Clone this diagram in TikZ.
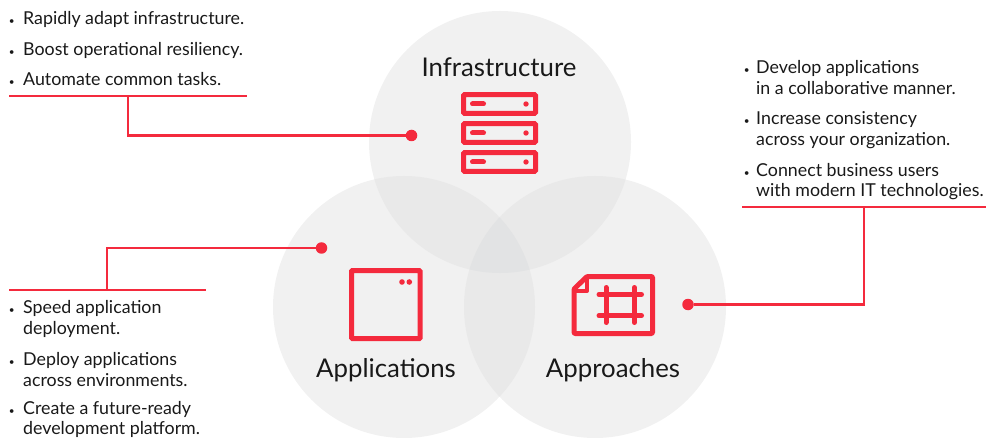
\documentclass[tikz,border=0pt]{standalone}
\usepackage{fontspec}
\setmainfont{Lato}
\usetikzlibrary{positioning}
\definecolor{rhred}{HTML}{F42A3D}
\definecolor{vennone}{HTML}{F1F1F1}
\definecolor{venntwo}{HTML}{E9E9E9}
\definecolor{vennthree}{HTML}{E2E3E4}
\newcommand{\bul}[1][8.5pt]{\llap{\fontsize{10}{10}\selectfont\textbullet\hspace{#1}}}
\tikzset{
  venn/.style={circle,draw=none,fill=vennone,minimum size=262pt,inner sep=0pt},
  dot/.style={circle,fill=rhred,inner sep=0pt,minimum size=11.5pt},
  rule/.style={draw=rhred,line width=2.3pt},
  icon/.style={draw=rhred,line width=5pt,rounded corners=1pt},
  title/.style={font=\fontsize{25.8}{26}\selectfont,text=black!90,inner sep=0pt,anchor=base},
  item/.style={font=\fontsize{17.8}{20.5}\selectfont,text=black!90,inner sep=0pt,anchor=base west,align=left},
}
\begin{document}
\begin{tikzpicture}[x=1pt,y=-1pt]
  \useasboundingbox (0,0) rectangle (995,438);
  % circles
  \node[venn](infra) at (500,142){};
  \node[venn](apps) at (404,307){};
  \node[venn](appr) at (595,307){};
  % overlaps
  \begin{scope}
    \clip (infra.center) circle (131pt);
    \fill[venntwo] (apps.center) circle (131pt);
    \fill[venntwo] (appr.center) circle (131pt);
  \end{scope}
  \begin{scope}
    \clip (apps.center) circle (131pt);
    \fill[venntwo] (appr.center) circle (131pt);
    \clip (appr.center) circle (131pt);
    \fill[vennthree] (infra.center) circle (131pt);
  \end{scope}
  % titles
  \node[title](infratitle) at (499,77){Infrastructure};
  \node[title](appstitle) at (386,377){Applications};
  \node[title](apprtitle) at (613,377){Approaches};
  % server icon
  \foreach \y in {104,133,162}{
    \draw[icon] (463.5,\y-9.4) rectangle (535.5,\y+9.4);
    \draw[rhred,line width=5pt,line cap=round] (472.5,\y) -- (483.5,\y);
    \fill[rhred] (526,\y) circle (2.7pt);
  }
  % window icon
  \draw[icon] (351.5,270.5) rectangle (420.2,338.7);
  \fill[rhred] (402,282) circle (2.8pt) (409.3,282) circle (2.8pt);
  % page icon
  \draw[icon,line join=round] (587,276.5) -- (652.5,276.5) -- (652.5,333.5) -- (574,333.5) -- (574,289) -- cycle;
  \draw[rhred,line width=4pt,line join=round] (587,276.5) -- (587,291) -- (574,291);
  \draw[rhred,line width=5pt,line cap=round]
    (599,294.5) -- (641.5,294.5) (599,315.7) -- (641.5,315.7) (606,287.5) -- (606,322.5) (634.3,287.5) -- (634.3,322.5);
  % top left list
  \node[item](tl1) at (23,25){\bul[8.5pt]Rapidly adapt infrastructure.};
  \node[item](tl2) at (23,56){\bul[8.5pt]Boost operational resiliency.};
  \node[item](tl3) at (23,86){\bul[8.5pt]Automate common tasks.};
  % right list
  \node[item](r1) at (756,94.5){\bul[6.5pt]Develop applications\\in a collaborative manner.};
  \node[item](r2) at (756,145.5){\bul[6.5pt]Increase consistency\\across your organization.};
  \node[item](r3) at (756,197){\bul[6.5pt]Connect business users\\with modern IT technologies.};
  % bottom left list
  \node[item](bl1) at (23,334){\bul Speed application\\deployment.};
  \node[item](bl2) at (23,386){\bul Deploy applications\\across environments.};
  \node[item](bl3) at (23,434.5){\bul Create a future-ready\\development platform.};
  % connectors
  \coordinate (tla) at (9,96);
  \coordinate (tlb) at (247,96);
  \coordinate (tlc) at (128,96);
  \node[dot](infradot) at (411.5,135.5){};
  \draw[rule] (tla) -- (tlb);
  \draw[rule] (tlc) |- (infradot);
  \coordinate (bla) at (9,290);
  \coordinate (blb) at (206,290);
  \coordinate (blc) at (107,290);
  \node[dot](appsdot) at (321.5,248){};
  \draw[rule] (bla) -- (blb);
  \draw[rule] (blc) |- (appsdot);
  \coordinate (ra) at (742,207);
  \coordinate (rb) at (986,207);
  \coordinate (rc) at (864,207);
  \node[dot](apprdot) at (688,304.5){};
  \draw[rule] (ra) -- (rb);
  \draw[rule] (rc) |- (apprdot);
\end{tikzpicture}
\end{document}
